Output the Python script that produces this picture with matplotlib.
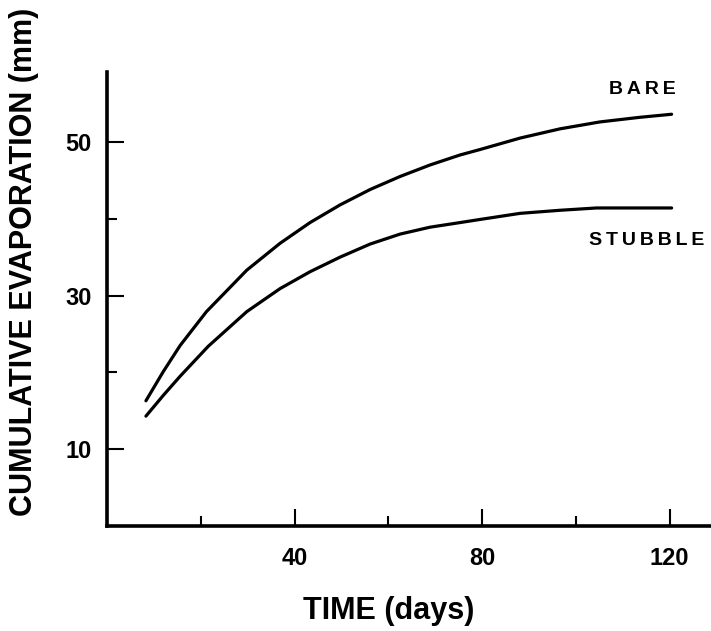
import matplotlib
matplotlib.use('Agg')
import matplotlib.pyplot as plt
from matplotlib.ticker import MultipleLocator

# cumulative evaporation (mm) against time (days)
bare_days = [8.3, 12.0, 15.6, 21.2, 29.8, 36.9, 43.3, 49.7, 56.1, 62.5, 68.9,
             75.3, 79.5, 88.1, 96.6, 105.1, 113.6, 120.4]
bare_mm = [16.3, 20.1, 23.5, 27.9, 33.3, 36.8, 39.5, 41.8, 43.8, 45.5, 47.0,
           48.3, 49.0, 50.5, 51.7, 52.6, 53.2, 53.6]

stubble_days = [8.3, 12.0, 15.6, 21.6, 29.8, 36.9, 43.3, 49.7, 56.1, 62.5,
                68.9, 75.3, 79.5, 88.1, 96.6, 104.4, 120.4]
stubble_mm = [14.3, 17.0, 19.5, 23.4, 27.9, 30.9, 33.1, 35.0, 36.7, 38.0,
              38.9, 39.5, 39.9, 40.7, 41.1, 41.4, 41.4]

x_major = [40, 80, 120]
y_major = [10, 30, 50]

plt.rcParams['font.family'] = ['Liberation Sans', 'DejaVu Sans']
plt.rcParams['font.weight'] = 'bold'


def spaced(s):
    # a thin space between letters, like the lettering on the original drawing
    return '\u2009'.join(s)


fig = plt.figure(figsize=(7.11, 6.31), dpi=100)
ax = fig.add_axes([107 / 711, 105 / 631, 604 / 711, 454 / 631])

ax.plot(bare_days, bare_mm, color='black', lw=2.3, solid_capstyle='round', solid_joinstyle='round')
ax.plot(stubble_days, stubble_mm, color='black', lw=2.3, solid_capstyle='round', solid_joinstyle='round')

ax.set_xlim(0, 128.8)
ax.set_ylim(0, 59.1)

for side in ('top', 'right'):
    ax.spines[side].set_visible(False)
for side in ('left', 'bottom'):
    ax.spines[side].set_linewidth(2.6)

ax.set_xticks(x_major)
ax.set_yticks(y_major)
ax.xaxis.set_minor_locator(MultipleLocator(20))
ax.yaxis.set_minor_locator(MultipleLocator(10))
ax.tick_params(which='major', direction='in', length=12, width=1.5, labelsize=17, pad=15)
ax.tick_params(which='minor', direction='in', length=7, width=1.5)
ax.tick_params(axis='y', which='major', pad=11)

ax.text(114.1, 56.8, spaced('BARE'), fontsize=14, fontweight='bold', ha='center', va='center')
ax.text(102.8, 37.2, spaced('STUBBLE'), fontsize=14, fontweight='bold', ha='left', va='center')

ax.set_xlabel('TIME (days)', fontsize=22, fontweight='bold')
ax.xaxis.set_label_coords(0.467, -0.155)
ax.set_ylabel('CUMULATIVE EVAPORATION (mm)', fontsize=22, fontweight='bold')
ax.yaxis.set_label_coords(-0.112, 0.582)

fig.savefig('out.png', dpi=100)
